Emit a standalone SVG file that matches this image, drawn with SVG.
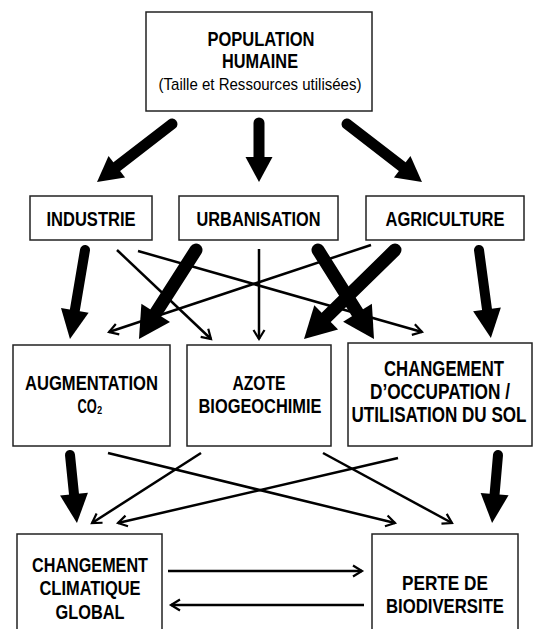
<svg xmlns="http://www.w3.org/2000/svg" width="533" height="629" viewBox="0 0 533 629">
<style>
.box{fill:#fff;stroke:#222;stroke-width:1.5}
.t{font-family:"Liberation Sans",Arial,sans-serif;font-weight:bold;fill:#000;text-anchor:middle;font-size:21px}
.t22{font-size:22px}
.t20{font-size:20.5px}
.r{font-family:"Liberation Sans",Arial,sans-serif;font-weight:normal;fill:#000;text-anchor:middle;font-size:17px}
.thick{stroke:#000;fill:none;stroke-linecap:round}
.thin{stroke:#000;fill:none;stroke-width:2.5;marker-end:url(#open)}
</style>
<defs>
<marker id="hA" markerUnits="userSpaceOnUse" orient="auto" refX="0" refY="0" markerWidth="40" markerHeight="40" overflow="visible"><path d="M0,-13.5 L25,0 L0,13.5 Z" fill="#000"/></marker>
<marker id="hB" markerUnits="userSpaceOnUse" orient="auto" refX="0" refY="0" markerWidth="40" markerHeight="40" overflow="visible"><path d="M0,-14 L29,0 L0,14 Z" fill="#000"/></marker>
<marker id="hC" markerUnits="userSpaceOnUse" orient="auto" refX="0" refY="0" markerWidth="40" markerHeight="40" overflow="visible"><path d="M0,-17 L31,0 L0,17 Z" fill="#000"/></marker>
<marker id="open" markerUnits="userSpaceOnUse" orient="auto" refX="0" refY="0" markerWidth="20" markerHeight="20" overflow="visible"><path d="M-9,-5.5 L0,0 L-9,5.5" fill="none" stroke="#000" stroke-width="2.2" stroke-linejoin="miter"/></marker>
</defs>
<rect width="533" height="629" fill="#fff"/>

<g id="connectors">
  <line class="thick" stroke-width="11" x1="172" y1="124" x2="116.8" y2="166.7" marker-end="url(#hA)"/>
  <line class="thick" stroke-width="11" x1="259" y1="123" x2="259" y2="157" marker-end="url(#hA)"/>
  <line class="thick" stroke-width="11" x1="347" y1="124" x2="402.2" y2="166.7" marker-end="url(#hA)"/>
  <line class="thin" x1="117" y1="250" x2="211" y2="339"/>
  <line class="thin" x1="138" y1="251" x2="422" y2="332"/>
  <line class="thin" x1="259" y1="249" x2="259" y2="339"/>
  <line class="thin" x1="371" y1="245" x2="109" y2="332"/>
  <line class="thick" stroke-width="10" x1="85" y1="250" x2="74.8" y2="310.4" marker-end="url(#hB)"/>
  <line class="thick" stroke-width="13" x1="196" y1="250" x2="155.7" y2="312.9" marker-end="url(#hC)"/>
  <line class="thick" stroke-width="13" x1="318" y1="250" x2="357.5" y2="312.8" marker-end="url(#hC)"/>
  <line class="thick" stroke-width="13" x1="395" y1="250" x2="326.2" y2="317.3" marker-end="url(#hC)"/>
  <line class="thick" stroke-width="10" x1="479" y1="250" x2="487.0" y2="309.3" marker-end="url(#hB)"/>
  <line class="thin" x1="108" y1="453" x2="395" y2="523"/>
  <line class="thin" x1="201" y1="453" x2="92" y2="523"/>
  <line class="thin" x1="323" y1="453" x2="452" y2="523"/>
  <line class="thin" x1="398" y1="458" x2="118" y2="523"/>
  <line class="thick" stroke-width="10" x1="70" y1="455" x2="74.0" y2="494.2" marker-end="url(#hB)"/>
  <line class="thick" stroke-width="10" x1="498" y1="455" x2="494.6" y2="494.1" marker-end="url(#hB)"/>
  <line class="thin" stroke-width="3" x1="168" y1="571" x2="362" y2="571"/>
  <line class="thin" stroke-width="3" x1="364" y1="605" x2="171" y2="605"/>
</g>

<g id="population">
  <rect class="box" x="146" y="12" width="226" height="99"/>
  <text class="t" x="261" y="46" textLength="107" lengthAdjust="spacingAndGlyphs">POPULATION</text>
  <text class="t" x="260" y="68" textLength="76" lengthAdjust="spacingAndGlyphs">HUMAINE</text>
  <text class="r" x="260" y="90" textLength="203" lengthAdjust="spacingAndGlyphs">(Taille et Ressources utilisées)</text>
</g>
<g id="industrie">
  <rect class="box" x="30" y="196" width="122" height="44"/>
  <text class="t" x="91" y="226" textLength="89" lengthAdjust="spacingAndGlyphs">INDUSTRIE</text>
</g>
<g id="urbanisation">
  <rect class="box" x="179" y="196" width="159" height="44"/>
  <text class="t" x="258.5" y="226" textLength="124" lengthAdjust="spacingAndGlyphs">URBANISATION</text>
</g>
<g id="agriculture">
  <rect class="box" x="366" y="196" width="158" height="44"/>
  <text class="t" x="445" y="226" textLength="119" lengthAdjust="spacingAndGlyphs">AGRICULTURE</text>
</g>
<g id="augmentation-co2">
  <rect class="box" x="13" y="345" width="157" height="101"/>
  <text class="t" x="91.5" y="390" textLength="133" lengthAdjust="spacingAndGlyphs">AUGMENTATION</text>
  <text class="t" x="90" y="413" textLength="25" lengthAdjust="spacingAndGlyphs">CO₂</text>
</g>
<g id="azote">
  <rect class="box" x="187" y="345" width="144" height="101"/>
  <text class="t" x="259" y="390" textLength="53" lengthAdjust="spacingAndGlyphs">AZOTE</text>
  <text class="t" x="260" y="413" textLength="123" lengthAdjust="spacingAndGlyphs">BIOGEOCHIMIE</text>
</g>
<g id="changement-sol">
  <rect class="box" x="348" y="343" width="184" height="103"/>
  <text class="t t22" x="444" y="376" textLength="120" lengthAdjust="spacingAndGlyphs">CHANGEMENT</text>
  <text class="t t22" x="440" y="399" textLength="140" lengthAdjust="spacingAndGlyphs">D’OCCUPATION /</text>
  <text class="t t22" x="439" y="422" textLength="175" lengthAdjust="spacingAndGlyphs">UTILISATION DU SOL</text>
</g>
<g id="changement-climatique">
  <rect class="box" x="17" y="534" width="145" height="110"/>
  <text class="t t20" x="90" y="572" textLength="116" lengthAdjust="spacingAndGlyphs">CHANGEMENT</text>
  <text class="t t20" x="90" y="595" textLength="101" lengthAdjust="spacingAndGlyphs">CLIMATIQUE</text>
  <text class="t t20" x="90" y="619" textLength="69" lengthAdjust="spacingAndGlyphs">GLOBAL</text>
</g>
<g id="perte-biodiversite">
  <rect class="box" x="372" y="534" width="146" height="110"/>
  <text class="t t20" x="445" y="590" textLength="86" lengthAdjust="spacingAndGlyphs">PERTE DE</text>
  <text class="t t20" x="445" y="613" textLength="118" lengthAdjust="spacingAndGlyphs">BIODIVERSITE</text>
</g>
</svg>
